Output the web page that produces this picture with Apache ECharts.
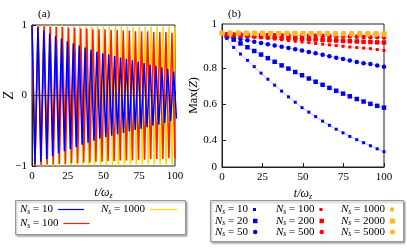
<!DOCTYPE html>
<html><head><meta charset="utf-8">
<script src="https://cdn.jsdelivr.net/npm/echarts@6/dist/echarts.min.js"></script>
<style>html,body{margin:0;padding:0;background:#fff}#c{width:407px;height:248px}</style>
</head><body><div id="c"></div>
<script>
// ---------- Panel (a): extrema of Z(t) oscillations ----------
const tA10 = [0,2.06,4.13,6.19,8.25,10.31,12.38,14.44,16.5,18.56,20.63,22.69,24.75,26.81,28.88,30.94,33,35.06,37.13,39.19,41.25,43.31,45.38,47.44,49.5,51.56,53.63,55.69,57.75,59.81,61.88,63.94,66,68.06,70.13,72.19,74.25,76.31,78.38,80.44,82.5,84.56,86.63,88.69,90.75,92.81,94.88,96.94,99,101.06];
const zA10 = [1,-0.98,0.96,-0.94,0.92,-0.90,0.88,-0.86,0.84,-0.82,0.81,-0.79,0.77,-0.76,0.74,-0.73,0.71,-0.70,0.68,-0.67,0.65,-0.64,0.62,-0.61,0.60,-0.59,0.58,-0.57,0.56,-0.55,0.54,-0.53,0.52,-0.51,0.50,-0.49,0.48,-0.47,0.46,-0.45,0.44,-0.43,0.42,-0.41,0.40,-0.39,0.38,-0.36,0.34,-0.33];
const tA100 = [0,2.13,4.26,6.38,8.51,10.64,12.77,14.89,17.02,19.15,21.28,23.4,25.53,27.66,29.79,31.91,34.04,36.17,38.3,40.43,42.55,44.68,46.81,48.94,51.06,53.19,55.32,57.45,59.57,61.7,63.83,65.96,68.09,70.21,72.34,74.47,76.6,78.72,80.85,82.98,85.11,87.23,89.36,91.49,93.62,95.74,97.87,100];
const zA100 = [1,-1,0.99,-0.99,0.99,-0.98,0.98,-0.98,0.97,-0.97,0.97,-0.97,0.96,-0.96,0.96,-0.96,0.95,-0.95,0.95,-0.95,0.94,-0.94,0.94,-0.94,0.94,-0.93,0.93,-0.93,0.93,-0.92,0.92,-0.92,0.92,-0.92,0.91,-0.91,0.91,-0.91,0.91,-0.90,0.90,-0.90,0.90,-0.90,0.90,-0.89,0.89,-0.89];
const tA1000 = [0,2.08,4.17,6.25,8.33,10.42,12.5,14.58,16.67,18.75,20.83,22.92,25,27.08,29.17,31.25,33.33,35.42,37.5,39.58,41.67,43.75,45.83,47.92,50,52.08,54.17,56.25,58.33,60.42,62.5,64.58,66.67,68.75,70.83,72.92,75,77.08,79.17,81.25,83.33,85.42,87.5,89.58,91.67,93.75,95.83,97.92,100];
const zA1000 = [1,-1,1,-1,1,-1,1,-1,1,-1,1,-0.99,0.99,-0.99,0.99,-0.99,0.99,-0.99,0.99,-0.99,0.99,-0.99,0.99,-0.99,0.99,-0.99,0.99,-0.99,0.99,-0.99,0.99,-0.98,0.98,-0.98,0.98,-0.98,0.98,-0.98,0.98,-0.98,0.98,-0.98,0.98,-0.98,0.98,-0.98,0.98,-0.98,0.98];

// ---------- Panel (b): Max(Z) ----------
const tMax = [3.0,7.2,11.4,15.7,19.9,24.1,28.3,32.5,36.8,41.0,45.2,49.4,53.6,57.8,62.1,66.3,70.5,74.7,78.9,83.2,87.4,91.6,95.8,100];
const m10  = [0.965,0.915,0.878,0.843,0.808,0.772,0.738,0.705,0.672,0.64,0.61,0.58,0.555,0.53,0.505,0.482,0.46,0.44,0.42,0.402,0.385,0.368,0.351,0.335];
const m20  = [0.978,0.958,0.937,0.916,0.895,0.875,0.855,0.835,0.815,0.797,0.778,0.76,0.742,0.724,0.707,0.69,0.674,0.658,0.643,0.628,0.614,0.601,0.59,0.58];
const m50  = [0.975,0.968,0.961,0.954,0.947,0.94,0.933,0.926,0.919,0.912,0.905,0.897,0.89,0.882,0.874,0.866,0.858,0.85,0.842,0.834,0.827,0.822,0.814,0.807];
const m100 = [0.982,0.98,0.978,0.975,0.972,0.968,0.965,0.961,0.957,0.953,0.949,0.945,0.941,0.937,0.933,0.929,0.925,0.921,0.917,0.914,0.911,0.908,0.903,0.898];
const m200 = [0.985,0.983,0.981,0.979,0.977,0.975,0.973,0.971,0.969,0.967,0.965,0.963,0.961,0.959,0.957,0.955,0.953,0.951,0.949,0.948,0.946,0.945,0.943,0.942];
const m500 = [0.988,0.987,0.987,0.986,0.985,0.985,0.984,0.983,0.982,0.982,0.981,0.980,0.979,0.979,0.978,0.977,0.976,0.976,0.975,0.974,0.973,0.972,0.971,0.970];
const tMaxO = [0,5,10,15,20,25,30,35,40,45,50,55,60,65,70,75,80,85,90,95,100];
const m1000 = [0.995,0.995,0.994,0.994,0.993,0.993,0.992,0.992,0.991,0.991,0.990,0.990,0.989,0.989,0.988,0.988,0.987,0.987,0.986,0.986,0.985];
const m2000 = [0.995,0.995,0.995,0.994,0.994,0.994,0.993,0.993,0.993,0.993,0.992,0.992,0.992,0.992,0.991,0.991,0.991,0.991,0.990,0.990,0.990];
const m5000 = [0.995,0.995,0.995,0.995,0.995,0.994,0.994,0.994,0.994,0.994,0.994,0.994,0.993,0.993,0.993,0.993,0.993,0.993,0.993,0.993,0.993];

const xTicks = [0,25,50,75,100];
const yTicksA = [-1,0,1];
const yTicksB = [0.4,0.6,0.8];
const legendLabels = {
  a10:'{n|N}{s|s} = 10', a100:'{n|N}{s|s} = 100', a1000:'{n|N}{s|s} = 1000',
  b10:'{n|N}{s|s} = 10', b20:'{n|N}{s|s} = 20', b50:'{n|N}{s|s} = 50',
  b100:'{n|N}{s|s} = 100', b200:'{n|N}{s|s} = 200', b500:'{n|N}{s|s} = 500',
  b1000:'{n|N}{s|s} = 1000', b2000:'{n|N}{s|s} = 2000', b5000:'{n|N}{s|s} = 5000'
};

const FONT = '"Liberation Serif","DejaVu Serif",serif';
const BLUE = '#0000ff', RED = '#ff1e00', YEL = '#ffd800';
const BLUE_B = '#0000f0', RED_B = '#ff0000', ORA_B = '#ffb52e';

const zip = (a,b) => a.map((v,i)=>[v,b[i]]).filter(p=>p[1]!==undefined);
const rich = {
  n:{fontFamily:FONT,fontStyle:'italic',fontSize:11,lineHeight:13,color:'#000'},
  s:{fontFamily:FONT,fontStyle:'italic',fontSize:7.5,lineHeight:8,verticalAlign:'bottom',color:'#000'}
};
function leg(name, left, top, textW, icon, iw, ih){
  return {left, top, orient:'horizontal', align:'right', padding:0, itemGap:0,
    itemWidth:iw, itemHeight:ih, selectedMode:false, z:5,
    data:[{name, icon}], formatter:n=>legendLabels[n],
    textStyle:{fontFamily:FONT,fontSize:11,color:'#000',width:textW,rich}};
}
const axisCommon = {
  axisLine:{show:true,lineStyle:{color:'#222',width:1}},
  axisTick:{show:true,inside:true,length:4,lineStyle:{color:'#222'}},
  splitLine:{show:false},
  axisLabel:{fontFamily:FONT,fontSize:11,color:'#000',margin:5}
};
const nameRich = {
  i:{fontFamily:FONT,fontStyle:'italic',fontSize:12,lineHeight:14,color:'#000'},
  s:{fontFamily:FONT,fontStyle:'italic',fontSize:8,lineHeight:8,verticalAlign:'bottom',color:'#000'}
};

const lineA = (name, t, z, color) => ({name, type:'line', xAxisIndex:0, yAxisIndex:0,
  data: zip(t,z), color, symbol:'none', lineStyle:{width:1.5,color}, clip:true});
const dotB = (name, t, m, color, symbol, size) => ({name, type:'line', xAxisIndex:1, yAxisIndex:1,
  data: zip(t,m), color, symbol, symbolSize:size, showSymbol:true,
  itemStyle:{color}, lineStyle:{width:0.8,color,opacity:0.35}, clip:true});

const chart = echarts.init(document.getElementById('c'), null, {renderer:'canvas'});
chart.setOption({
  animation:false,
  backgroundColor:'#fff',
  title:[
    {text:'(a)', left:33, top:4, textStyle:{fontFamily:FONT,fontSize:11,fontWeight:'normal',color:'#000'}},
    {text:'(b)', left:223, top:4, textStyle:{fontFamily:FONT,fontSize:11,fontWeight:'normal',color:'#000'}}
  ],
  grid:[
    {left:32, top:25, width:143, height:141, show:true, borderColor:'#222', borderWidth:1, backgroundColor:'transparent'},
    {left:222, top:24, width:162, height:143, show:true, borderColor:'#222', borderWidth:1, backgroundColor:'transparent'}
  ],
  xAxis:[
    Object.assign({}, axisCommon, {type:'value', gridIndex:0, min:0, max:100, interval:25,
      name:'{i|t/ω}{s|z}', nameLocation:'middle', nameGap:17, nameTextStyle:{rich:nameRich},
      axisLabel:Object.assign({}, axisCommon.axisLabel, {customValues:xTicks})}),
    Object.assign({}, axisCommon, {type:'value', gridIndex:1, min:0, max:100, interval:25,
      name:'{i|t/ω}{s|z}', nameLocation:'middle', nameGap:17, nameTextStyle:{rich:nameRich},
      axisLabel:Object.assign({}, axisCommon.axisLabel, {customValues:xTicks})})
  ],
  yAxis:[
    Object.assign({}, axisCommon, {type:'value', gridIndex:0, min:-1, max:1, interval:1,
      name:'{i|Z}', nameLocation:'middle', nameGap:16, nameRotate:90, nameMoveOverlap:false,
      nameTextStyle:{rich:{i:{fontFamily:FONT,fontStyle:'italic',fontSize:14,color:'#000'}}},
      axisLabel:Object.assign({}, axisCommon.axisLabel, {customValues:yTicksA,
        formatter:v=> v<0 ? '\u2212'+Math.abs(v) : String(v)})}),
    Object.assign({}, axisCommon, {type:'value', gridIndex:1, min:0.25, max:1.045,
      name:'Max({i|Z})', nameLocation:'middle', nameGap:20, nameRotate:90,
      nameTextStyle:{fontFamily:FONT,fontSize:12,color:'#000',rich:{i:{fontFamily:FONT,fontStyle:'italic',fontSize:12,color:'#000'}}},
      axisTick:Object.assign({}, axisCommon.axisTick, {customValues:yTicksB}),
      axisLabel:Object.assign({}, axisCommon.axisLabel, {customValues:[0.25].concat(yTicksB,[1.045]),
        formatter:v=> v<0.3 ? '0' : (v>1 ? '1' : v.toFixed(1))})})
  ],
  legend:[
    leg('a10', 20, 204, 44, 'rect', 26, 1.2),
    leg('a1000', 101, 204, 47, 'rect', 27, 1.2),
    leg('a100', 20, 218, 42, 'rect', 26, 1.2),
    leg('b10', 215, 204, 40, 'rect', 3, 3),
    leg('b100', 276, 204, 45, 'rect', 3, 3),
    leg('b1000', 341, 204, 49, 'rect', 4, 4),
    leg('b20', 215, 215.5, 40, 'rect', 4.5, 4.5),
    leg('b200', 276, 215.5, 45, 'rect', 4.5, 4.5),
    leg('b2000', 341, 215.5, 49, 'rect', 5, 5),
    leg('b50', 215, 226.5, 40, 'circle', 4.5, 4.5),
    leg('b500', 276, 226.5, 45, 'circle', 4.5, 4.5),
    leg('b5000', 341, 226.5, 49, 'circle', 5, 5)
  ],
  graphic:[
    {type:'rect', z:1, shape:{x:15.5,y:200.5,width:170,height:34},
      style:{fill:'#fff',stroke:'#999',lineWidth:1,shadowBlur:2,shadowOffsetX:1,shadowOffsetY:1.5,shadowColor:'rgba(0,0,0,0.35)'}},
    {type:'rect', z:1, shape:{x:210.5,y:200.5,width:193,height:41},
      style:{fill:'#fff',stroke:'#999',lineWidth:1,shadowBlur:2,shadowOffsetX:1,shadowOffsetY:1.5,shadowColor:'rgba(0,0,0,0.35)'}}
  ],
  series:[
    lineA('a1000', tA1000, zA1000, YEL),
    lineA('a100', tA100, zA100, RED),
    lineA('a10', tA10, zA10, BLUE),
    dotB('b10', tMax, m10, BLUE_B, 'rect', 3),
    dotB('b20', tMax, m20, BLUE_B, 'rect', 4.5),
    dotB('b50', tMax, m50, BLUE_B, 'circle', 4.5),
    dotB('b100', tMax, m100, RED_B, 'rect', 3),
    dotB('b200', tMax, m200, RED_B, 'rect', 4.5),
    dotB('b500', tMax, m500, RED_B, 'circle', 4.5),
    dotB('b1000', tMaxO, m1000, ORA_B, 'rect', 4),
    dotB('b2000', tMaxO, m2000, ORA_B, 'rect', 5),
    dotB('b5000', tMaxO, m5000, ORA_B, 'circle', 5)
  ]
});
</script></body></html>
